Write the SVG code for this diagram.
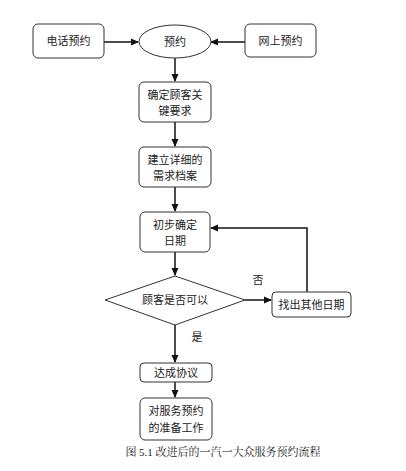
<svg xmlns="http://www.w3.org/2000/svg" width="406" height="471" viewBox="0 0 406 471">
<style>
.n{fill:#fff;stroke:#333;stroke-width:1}
.t{font-family:"Liberation Sans","Noto Sans CJK SC",sans-serif;font-size:11px;fill:#222;text-anchor:middle}
.c{stroke:#111;stroke-width:1.5;fill:none}
.cap{font-family:"Liberation Serif","Noto Serif CJK SC","Noto Sans CJK SC",serif;font-size:11px;fill:#222;text-anchor:middle}
</style>
<defs>
<marker id="a" markerWidth="8" markerHeight="8" refX="7" refY="4" orient="auto" markerUnits="userSpaceOnUse">
<path d="M0,0.5 L8,4 L0,7.5 Z" fill="#111"/>
</marker>
</defs>
<rect width="406" height="471" fill="#fff"/>
<g id="connectors">
<line class="c" x1="104" y1="42" x2="138" y2="42" marker-end="url(#a)"/>
<line class="c" x1="245" y1="42" x2="211" y2="42" marker-end="url(#a)"/>
<line class="c" x1="175" y1="58" x2="175" y2="81" marker-end="url(#a)"/>
<line class="c" x1="175" y1="122" x2="175" y2="146" marker-end="url(#a)"/>
<line class="c" x1="175" y1="187" x2="175" y2="211" marker-end="url(#a)"/>
<line class="c" x1="175" y1="252" x2="175" y2="275" marker-end="url(#a)"/>
<line class="c" x1="245" y1="300" x2="271" y2="300" marker-end="url(#a)"/>
<polyline class="c" points="307,292 307,228 211,228" marker-end="url(#a)"/>
<line class="c" x1="175" y1="325" x2="175" y2="362" marker-end="url(#a)"/>
<line class="c" x1="175" y1="382" x2="175" y2="397" marker-end="url(#a)"/>
<text class="t" x="258" y="284">否</text>
<text class="t" x="197" y="341">是</text>
</g>
<g id="phone"><rect class="n" x="33" y="24" width="71" height="34" rx="5"/><text class="t" x="68.5" y="45">电话预约</text></g>
<g id="booking"><ellipse class="n" cx="175" cy="41.5" rx="36" ry="16.5"/><text class="t" x="175" y="45.5">预约</text></g>
<g id="online"><rect class="n" x="245" y="24" width="71" height="33" rx="5"/><text class="t" x="280.5" y="44.5">网上预约</text></g>
<g id="keyreq"><rect class="n" x="139" y="82" width="72" height="40" rx="5"/><text class="t" x="175" y="99">确定顾客关</text><text class="t" x="175" y="115">键要求</text></g>
<g id="profile"><rect class="n" x="139" y="147" width="72" height="40" rx="5"/><text class="t" x="175" y="164">建立详细的</text><text class="t" x="175" y="180">需求档案</text></g>
<g id="date"><rect class="n" x="140" y="212" width="70" height="40" rx="5"/><text class="t" x="175" y="229">初步确定</text><text class="t" x="175" y="245">日期</text></g>
<g id="decision"><polygon class="n" points="175,276 245,300 175,325 105,300"/><text class="t" x="175" y="304">顾客是否可以</text></g>
<g id="other"><rect class="n" x="272" y="292" width="79" height="25" rx="4"/><text class="t" x="311.5" y="308.5">找出其他日期</text></g>
<g id="agree"><rect class="n" x="140" y="363" width="72" height="19" rx="4"/><text class="t" x="176" y="376.5">达成协议</text></g>
<g id="prepare"><rect class="n" x="140" y="398" width="72" height="42" rx="5"/><text class="t" x="176" y="415">对服务预约</text><text class="t" x="176" y="432">的准备工作</text></g>
<text class="cap" x="223" y="456">图 5.1 改进后的一汽一大众服务预约流程</text>
</svg>
